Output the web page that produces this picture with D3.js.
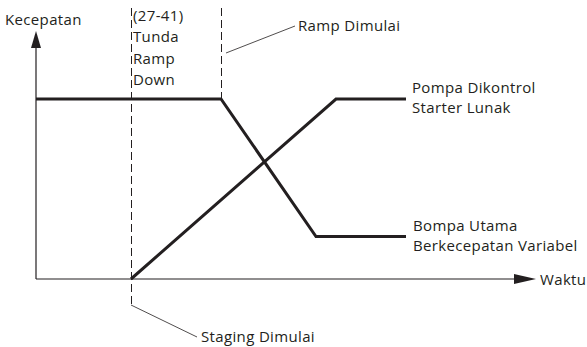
<!DOCTYPE html>
<html>
<head>
<meta charset="utf-8">
<script src="https://cdn.jsdelivr.net/npm/d3@7"></script>
<style>
  body { margin: 0; background: #fff; }
  text { font-family: "Open Sans", sans-serif; font-size: 15px; letter-spacing: 0.35px; fill: #231f20; }
</style>
</head>
<body>
<svg id="chart" width="587" height="347"></svg>
<script>
// time points (arbitrary units) and speed values (% of max)
const mainPumpTime = [0, 37, 56, 74];
const mainPumpSpeed = [72, 72, 17, 17];
const softStarterTime = [19, 60, 74];
const softStarterSpeed = [0, 72, 72];

const stagingTime = 19;
const rampStartTime = 37;

const yAxisLabel = "Kecepatan";
const xAxisLabel = "Waktu";
const delayLabel = ["(27-41)", "Tunda", "Ramp", "Down"];
const rampLabel = "Ramp Dimulai";
const stagingLabel = "Staging Dimulai";
const softStarterLabel = ["Pompa Dikontrol", "Starter Lunak"];
const mainPumpLabel = ["Bompa Utama", "Berkecepatan Variabel"];

const ink = "#231f20";
const svg = d3.select("#chart");

const x = d3.scaleLinear().domain([0, 100]).range([36, 536]);
const y = d3.scaleLinear().domain([0, 100]).range([279, 29]);

// axes with arrow heads
svg.append("line")
    .attr("x1", x(0)).attr("x2", 516)
    .attr("y1", y(0)).attr("y2", y(0))
    .attr("stroke", ink).attr("stroke-width", 1.2);
svg.append("path")
    .attr("d", `M514,${y(0) - 5}L536,${y(0)}L514,${y(0) + 5}Z`)
    .attr("fill", ink);

svg.append("line")
    .attr("x1", x(0)).attr("x2", x(0))
    .attr("y1", y(0)).attr("y2", 46)
    .attr("stroke", ink).attr("stroke-width", 1.2);
svg.append("path")
    .attr("d", `M${x(0) - 5},48L${x(0)},31L${x(0) + 5},48Z`)
    .attr("fill", ink);

// dashed markers
svg.append("line")
    .attr("x1", x(stagingTime) + 0.5).attr("x2", x(stagingTime) + 0.5)
    .attr("y1", 8).attr("y2", 305)
    .attr("stroke", ink).attr("stroke-width", 1)
    .attr("stroke-dasharray", "8,4");
svg.append("line")
    .attr("x1", x(rampStartTime) + 0.5).attr("x2", x(rampStartTime) + 0.5)
    .attr("y1", 8).attr("y2", y(72))
    .attr("stroke", ink).attr("stroke-width", 1)
    .attr("stroke-dasharray", "8,4");

// leader lines
svg.append("line")
    .attr("x1", x(rampStartTime) + 5).attr("y1", 53)
    .attr("x2", 295).attr("y2", 26)
    .attr("stroke", ink).attr("stroke-width", 0.8);
svg.append("line")
    .attr("x1", x(stagingTime)).attr("y1", 305)
    .attr("x2", 197).attr("y2", 337)
    .attr("stroke", ink).attr("stroke-width", 0.8);

// series
const line = d3.line().x(d => x(d[0])).y(d => y(d[1]));
svg.append("path")
    .attr("d", line(d3.zip(mainPumpTime, mainPumpSpeed)))
    .attr("fill", "none").attr("stroke", ink).attr("stroke-width", 3);
svg.append("path")
    .attr("d", line(d3.zip(softStarterTime, softStarterSpeed)))
    .attr("fill", "none").attr("stroke", ink).attr("stroke-width", 3);

// labels
svg.append("text").attr("x", 5).attr("y", 25).text(yAxisLabel);
svg.append("text").attr("x", 540).attr("y", 285).text(xAxisLabel);

delayLabel.forEach((t, i) => {
    svg.append("text").attr("x", x(stagingTime) + 2).attr("y", 21 + i * 21.4).text(t);
});
svg.append("text").attr("x", 298).attr("y", 31).text(rampLabel);
svg.append("text").attr("x", 201).attr("y", 342).text(stagingLabel);

softStarterLabel.forEach((t, i) => {
    svg.append("text").attr("x", 412).attr("y", 93 + i * 20).text(t);
});
mainPumpLabel.forEach((t, i) => {
    svg.append("text").attr("x", 413).attr("y", 231 + i * 20).text(t);
});
</script>
</body>
</html>
